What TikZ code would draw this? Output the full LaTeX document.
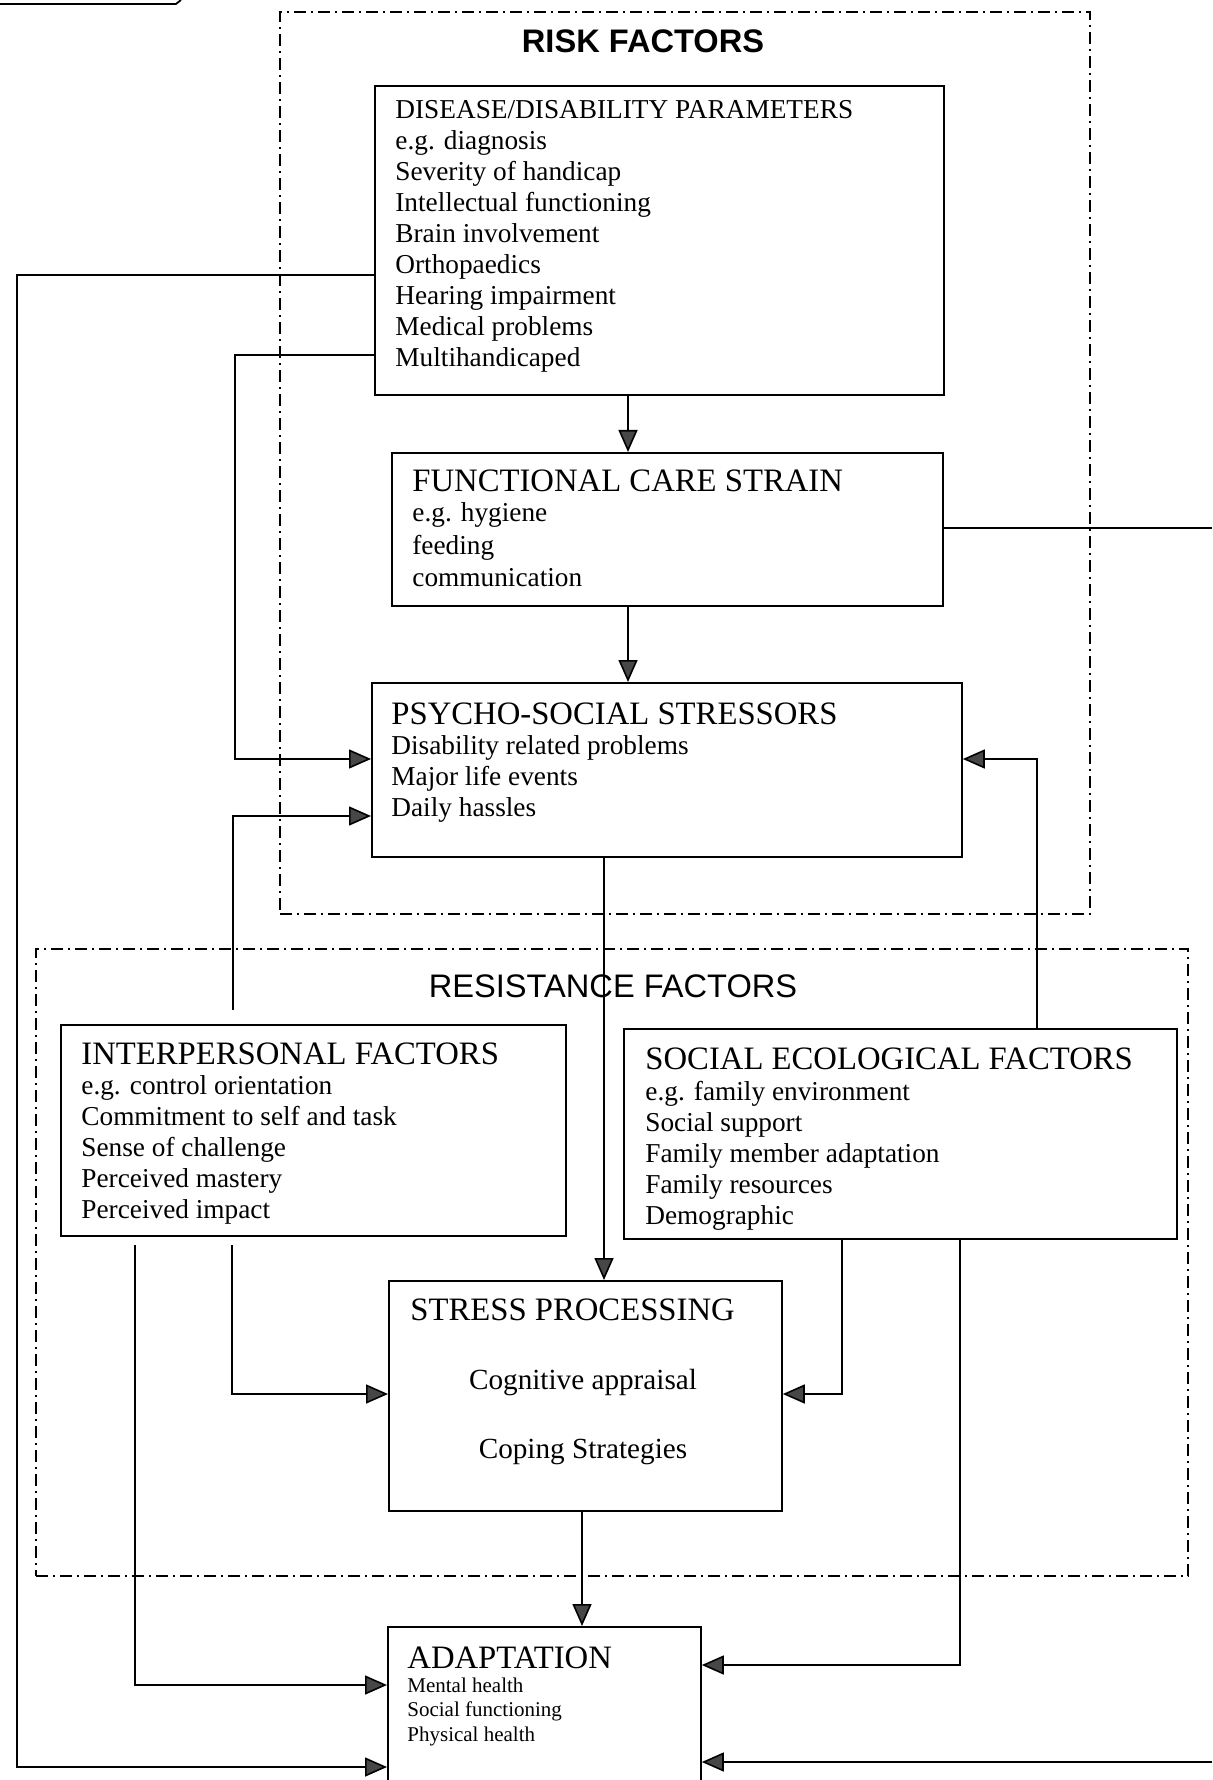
\documentclass[tikz,border=0pt]{standalone}
\usepackage{fontspec}
\setmainfont{Liberation Serif}
\newfontfamily\zonesans{Liberation Sans}
\usetikzlibrary{arrows.meta,calc}

\begin{document}
\begin{tikzpicture}[x=0.5pt,y=-0.5pt,
  box/.style={draw, line width=0.9pt, rectangle, inner sep=0pt, anchor=north west},
  zone/.style={draw, line width=0.9pt, rectangle, inner sep=0pt, anchor=north west,
               dash pattern=on 6pt off 2.5pt on 1pt off 2.5pt},
  body/.style={font=\fontsize{13.65}{15.5}\selectfont, inner sep=0pt, anchor=base west},
  head/.style={font=\fontsize{16.35}{19}\selectfont, inner sep=0pt, anchor=base west},
  mid/.style={font=\fontsize{14.6}{17}\selectfont, inner sep=0pt, anchor=base},
  small/.style={font=\fontsize{10.5}{12}\selectfont, inner sep=0pt, anchor=base west},
  zonetitle/.style={font=\zonesans\fontsize{16.3}{19}\selectfont, inner sep=0pt, anchor=base},
  conn/.style={line width=0.8pt},
  arr/.style={conn, -{Triangle[length=11pt,width=9.5pt,fill=black!72]}}]
\useasboundingbox (0,0) rectangle (1212,1780);
\clip (0,0) rectangle (1212,1780);

% rule running in from the top margin
\draw[line width=0.9pt] (0,4) -- (176,4) -- (181,0);

% dashed zones
\node[zone, minimum width=405pt, minimum height=451pt] (risk) at (279,11) {};
\node[zone, minimum width=576pt, minimum height=313.5pt] (resist) at (35,948) {};
\node[zonetitle, font=\zonesans\bfseries\fontsize{16.3}{19}\selectfont] (risktitle) at (643,53) {RISK FACTORS};
\node[zonetitle] (resisttitle) at (613,997) {RESISTANCE FACTORS};

% boxes
\node[box, minimum width=284.5pt, minimum height=154.5pt] (dis) at (374,85) {};
\node[box, minimum width=275.5pt, minimum height=76.5pt] (fun) at (391,452) {};
\node[box, minimum width=295pt, minimum height=87pt] (psy) at (371,682) {};
\node[box, minimum width=252.5pt, minimum height=105.5pt] (itp) at (60,1024) {};
\node[box, minimum width=276.5pt, minimum height=105pt] (soc) at (623,1028) {};
\node[box, minimum width=196.5pt, minimum height=115pt] (str) at (388,1280) {};
\node[box, minimum width=156.5pt, minimum height=100pt] (ada) at (387,1626) {};

% disease / disability parameters
\node[body] (dis-h) at (395,119) {DISEASE/DISABILITY PARAMETERS};
\foreach \t [count=\i from 1] in {e.g. diagnosis,Severity of handicap,Intellectual functioning,
  Brain involvement,Orthopaedics,Hearing impairment,Medical problems,Multihandicaped}
  \node[body] (dis-l\i) at (395,119+31*\i) {\t};

% functional care strain
\node[head] (fun-h) at (412,492) {FUNCTIONAL CARE STRAIN};
\foreach \t [count=\i from 0] in {e.g. hygiene,feeding,communication}
  \node[body] (fun-l\i) at (412,522+32*\i) {\t};

% psycho-social stressors
\node[head] (psy-h) at (391,724) {PSYCHO-SOCIAL STRESSORS};
\foreach \t [count=\i from 0] in {Disability related problems,Major life events,Daily hassles}
  \node[body] (psy-l\i) at (391,754+31*\i) {\t};

% interpersonal factors
\node[head] (itp-h) at (81,1064) {INTERPERSONAL FACTORS};
\foreach \t [count=\i from 0] in {e.g. control orientation,Commitment to self and task,
  Sense of challenge,Perceived mastery,Perceived impact}
  \node[body] (itp-l\i) at (81,1094+31*\i) {\t};

% social ecological factors
\node[head] (soc-h) at (645,1069) {SOCIAL ECOLOGICAL FACTORS};
\foreach \t [count=\i from 0] in {e.g. family environment,Social support,
  Family member adaptation,Family resources,Demographic}
  \node[body] (soc-l\i) at (645,1100+31*\i) {\t};

% stress processing
\node[head] (str-h) at (410,1320) {STRESS PROCESSING};
\node[mid] (str-a) at (583,1389) {Cognitive appraisal};
\node[mid] (str-b) at (583,1458) {Coping Strategies};

% adaptation
\node[head] (ada-h) at (407,1668) {ADAPTATION};
\foreach \t [count=\i from 0] in {Mental health,Social functioning,Physical health}
  \node[small] (ada-l\i) at (407,1692+24.5*\i) {\t};

% connectors
\coordinate (offF) at (1212,528);
\coordinate (offR) at (1212,1762);

\draw[arr] (628,0 |- dis.south) -- (628,0 |- fun.north);
\draw[arr] (628,0 |- fun.south) -- (628,0 |- psy.north);
\draw[arr] (dis.west |- 0,275) -- (17,275) -- (17,1767) -- (ada.west |- 0,1767);
\draw[arr] (dis.west |- 0,355) -- (235,355) -- (235,759) -- (psy.west |- 0,759);
\draw[conn] (fun.east |- offF) -- (offF);
\draw[arr] (604,0 |- psy.south) -- (604,0 |- str.north);
\draw[arr] ($(233,0 |- itp.north)+(0,-14)$) -- (233,816) -- (psy.west |- 0,816);
\draw[arr] (1037,0 |- soc.north) -- (1037,759) -- (psy.east |- 0,759);
\draw[arr] ($(232,0 |- itp.south)+(0,8)$) -- (232,1394) -- (str.west |- 0,1394);
\draw[arr] ($(135,0 |- itp.south)+(0,8)$) -- (135,1685) -- (ada.west |- 0,1685);
\draw[arr] (842,0 |- soc.south) -- (842,1394) -- (str.east |- 0,1394);
\draw[arr] (960,0 |- soc.south) -- (960,1665) -- (ada.east |- 0,1665);
\draw[arr] (582,0 |- str.south) -- (582,0 |- ada.north);
\draw[arr] (offR) -- (ada.east |- offR);
\end{tikzpicture}
\end{document}
